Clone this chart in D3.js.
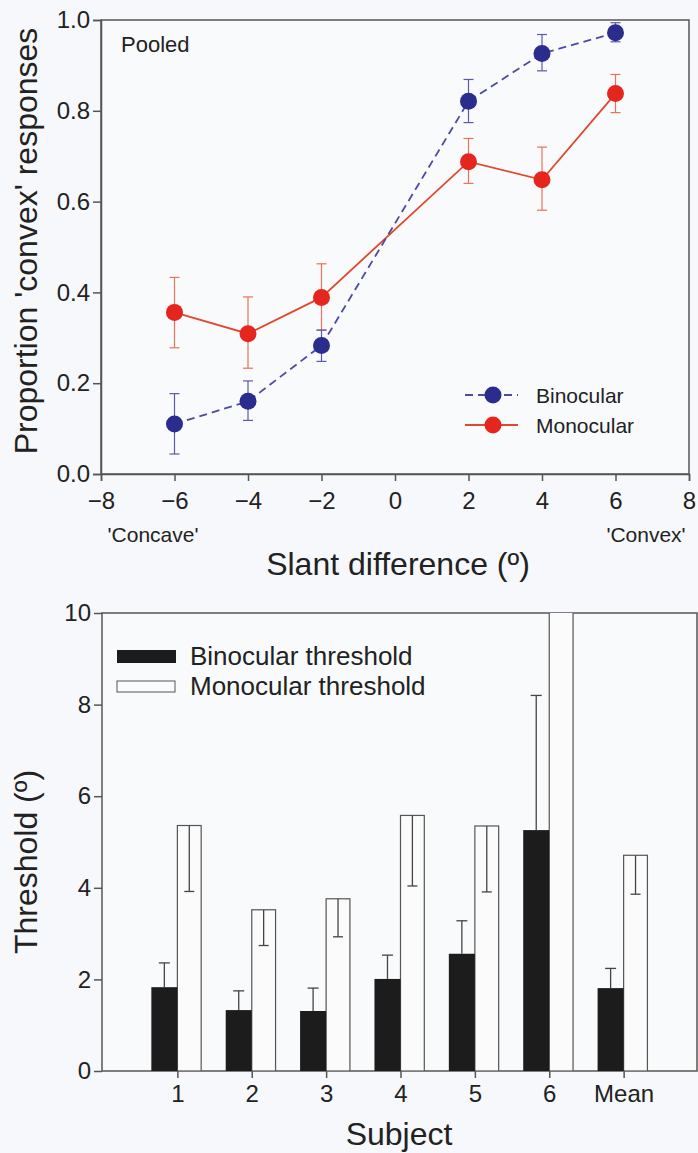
<!DOCTYPE html>
<html><head><meta charset="utf-8">
<script src="https://cdn.jsdelivr.net/npm/d3@7"></script>
<style>
html,body{margin:0;padding:0;background:#f7f8fb;}
svg{display:block;font-family:"Liberation Sans",Arial,Helvetica,sans-serif;}
</style></head>
<body>
<svg id="c" width="698" height="1153"></svg>
<script>
// ---------- Top panel data ----------
const slant = [-6, -4, -2, 2, 4, 6];
const binoMean = [0.11, 0.16, 0.283, 0.821, 0.926, 0.972];
const binoLo   = [0.044, 0.118, 0.248, 0.774, 0.888, 0.952];
const binoHi   = [0.177, 0.205, 0.317, 0.869, 0.968, 0.994];
const monoMean = [0.356, 0.309, 0.389, 0.688, 0.648, 0.838];
const monoLo   = [0.278, 0.233, 0.317, 0.640, 0.581, 0.796];
const monoHi   = [0.433, 0.390, 0.463, 0.739, 0.720, 0.880];
const slantTicks = [-8, -6, -4, -2, 0, 2, 4, 6, 8];
const propTicks = [0.0, 0.2, 0.4, 0.6, 0.8, 1.0];

// ---------- Bottom panel data ----------
const subjects = ["1", "2", "3", "4", "5", "6", "Mean"];
const binoThr    = [1.83, 1.33, 1.31, 2.01, 2.56, 5.26, 1.81];
const binoThrErr = [2.36, 1.75, 1.81, 2.53, 3.28, 8.20, 2.24];
const monoThr    = [5.36, 3.52, 3.76, 5.58, 5.35, 11.0, 4.71];
const monoThrErr = [3.92, 2.74, 2.93, 4.04, 3.91, null, 3.86];
const thrTicks = [0, 2, 4, 6, 8, 10];

const svg = d3.select("#c");
const ink = "#222";
const frame = "#555";
const blue = "#2a2c8e", blueLine = "#4b4ba3", blueErr = "#5a5aaa";
const red = "#e5261f", redLine = "#e1482e", redErr = "#e8735a";
const FONT = "Liberation Sans, Arial, sans-serif";

// ================= TOP PANEL =================
const x1 = d3.scaleLinear().domain([-8, 8]).range([101, 689]);
const y1 = d3.scaleLinear().domain([0, 1]).range([474, 20]);
const g1 = svg.append("g");

g1.append("rect").attr("x", x1(-8)).attr("y", y1(1)).attr("width", x1(8)-x1(-8)).attr("height", y1(0)-y1(1))
  .attr("fill", "#f9fafc").attr("stroke", frame).attr("stroke-width", 1.5);

const ax1 = g1.append("g").attr("transform", `translate(0,${y1(0)})`)
  .call(d3.axisBottom(x1).tickValues(slantTicks).tickSize(7).tickPadding(11).tickFormat(d => d < 0 ? "\u2212" + Math.abs(d) : d));
const ay1 = g1.append("g").attr("transform", `translate(${x1(-8)},0)`)
  .call(d3.axisLeft(y1).tickValues(propTicks).tickSize(8).tickPadding(3).tickFormat(d3.format(".1f")));
[ax1, ay1].forEach(a => {
  a.select(".domain").attr("stroke", frame).attr("stroke-width", 1.5);
  a.selectAll(".tick line").attr("stroke", frame).attr("stroke-width", 1.5);
  a.selectAll(".tick text").attr("fill", ink).attr("font-size", 24).attr("font-family", FONT);
});

// error bars
function errBars(g, xs, lo, hi, col) {
  const eg = g.append("g").attr("stroke", col).attr("stroke-width", 1.2);
  xs.forEach((xv, i) => {
    eg.append("line").attr("x1", x1(xv)).attr("x2", x1(xv)).attr("y1", y1(lo[i])).attr("y2", y1(hi[i]));
    eg.append("line").attr("x1", x1(xv)-5).attr("x2", x1(xv)+5).attr("y1", y1(lo[i])).attr("y2", y1(lo[i]));
    eg.append("line").attr("x1", x1(xv)-5).attr("x2", x1(xv)+5).attr("y1", y1(hi[i])).attr("y2", y1(hi[i]));
  });
}
errBars(g1, slant, monoLo, monoHi, redErr);
errBars(g1, slant, binoLo, binoHi, blueErr);

const line = d3.line().x(d => x1(d[0])).y(d => y1(d[1]));
g1.append("path").datum(slant.map((s, i) => [s, monoMean[i]])).attr("d", line)
  .attr("fill", "none").attr("stroke", redLine).attr("stroke-width", 1.8);
g1.append("path").datum(slant.map((s, i) => [s, binoMean[i]])).attr("d", line)
  .attr("fill", "none").attr("stroke", blueLine).attr("stroke-width", 1.8).attr("stroke-dasharray", "8,5");

g1.selectAll("circle.mono").data(slant).join("circle").attr("class", "mono")
  .attr("cx", d => x1(d)).attr("cy", (d, i) => y1(monoMean[i])).attr("r", 8.5).attr("fill", red);
g1.selectAll("circle.bino").data(slant).join("circle").attr("class", "bino")
  .attr("cx", d => x1(d)).attr("cy", (d, i) => y1(binoMean[i])).attr("r", 8.5).attr("fill", blue);

g1.append("text").attr("x", x1(-8) + 20).attr("y", y1(1) + 32).attr("font-size", 22).attr("fill", ink).text("Pooled");

// legend
const lg = g1.append("g");
const legItems = [
  {label: "Binocular", col: blue, lc: blueLine, dash: "8,5", y: 395},
  {label: "Monocular", col: red, lc: redLine, dash: null, y: 425}
];
legItems.forEach(it => {
  lg.append("line").attr("x1", 465).attr("x2", 518).attr("y1", it.y).attr("y2", it.y)
    .attr("stroke", it.lc).attr("stroke-width", 1.8).attr("stroke-dasharray", it.dash);
  lg.append("circle").attr("cx", 493).attr("cy", it.y).attr("r", 8.5).attr("fill", it.col);
  lg.append("text").attr("x", 536).attr("y", it.y + 8).attr("font-size", 21).attr("fill", ink).text(it.label);
});

g1.append("text").attr("x", 153).attr("y", 542).attr("text-anchor", "middle").attr("font-size", 21).attr("fill", ink).text("'Concave'");
g1.append("text").attr("x", 646).attr("y", 542).attr("text-anchor", "middle").attr("font-size", 21).attr("fill", ink).text("'Convex'");
g1.append("text").attr("x", 398).attr("y", 575).attr("text-anchor", "middle").attr("font-size", 32).attr("fill", ink).text("Slant difference (º)");
g1.append("text").attr("transform", `translate(37,241) rotate(-90)`)
  .attr("text-anchor", "middle").attr("font-size", 32).attr("fill", ink).text("Proportion 'convex' responses");

// ================= BOTTOM PANEL =================
const x2 = d3.scaleLinear().domain([0, 8]).range([103, 698]);
const y2 = d3.scaleLinear().domain([0, 10]).range([1071, 613]);
const g2 = svg.append("g");
g2.append("rect").attr("x", 102).attr("y", y2(10)).attr("width", 697 - 102).attr("height", y2(0) - y2(10))
  .attr("fill", "#f9fafc").attr("stroke", frame).attr("stroke-width", 1.5);

const bw1 = 0.35, bw2 = 0.32;
g2.append("clipPath").attr("id", "bclip").append("rect")
  .attr("x", 102).attr("y", y2(10)).attr("width", 596).attr("height", y2(0) - y2(10));
const bars = g2.append("g").attr("clip-path", "url(#bclip)");
subjects.forEach((s, i) => {
  const t = i + 1;
  bars.append("rect").attr("x", x2(t)).attr("y", y2(monoThr[i])).attr("width", x2(t + bw2) - x2(t))
    .attr("height", y2(0) - y2(monoThr[i])).attr("fill", "#fbfbfb").attr("stroke", "#555").attr("stroke-width", 1.2);
  bars.append("rect").attr("x", x2(t - bw1)).attr("y", y2(binoThr[i])).attr("width", x2(t) - x2(t - bw1))
    .attr("height", y2(0) - y2(binoThr[i])).attr("fill", "#1c1c1c");
  const bx = x2(t - bw1 / 2);
  bars.append("line").attr("x1", bx).attr("x2", bx).attr("y1", y2(binoThr[i])).attr("y2", y2(binoThrErr[i])).attr("stroke", "#444").attr("stroke-width", 1.3);
  bars.append("line").attr("x1", bx - 5.5).attr("x2", bx + 5.5).attr("y1", y2(binoThrErr[i])).attr("y2", y2(binoThrErr[i])).attr("stroke", "#444").attr("stroke-width", 1.3);
  if (monoThrErr[i] !== null) {
    const mx = x2(t + bw2 / 2);
    bars.append("line").attr("x1", mx).attr("x2", mx).attr("y1", y2(monoThr[i])).attr("y2", y2(monoThrErr[i])).attr("stroke", "#444").attr("stroke-width", 1.3);
    bars.append("line").attr("x1", mx - 5).attr("x2", mx + 5).attr("y1", y2(monoThrErr[i])).attr("y2", y2(monoThrErr[i])).attr("stroke", "#444").attr("stroke-width", 1.3);
  }
});

const ax2 = g2.append("g").attr("transform", `translate(0,${y2(0)})`)
  .call(d3.axisBottom(x2).tickValues(d3.range(1, subjects.length + 1)).tickSize(7).tickPadding(7).tickFormat(d => subjects[d - 1]));
const ay2 = g2.append("g").attr("transform", `translate(102,0)`)
  .call(d3.axisLeft(y2).tickValues(thrTicks).tickSize(8).tickPadding(3));
[ax2, ay2].forEach(a => {
  a.select(".domain").remove();
  a.selectAll(".tick line").attr("stroke", frame).attr("stroke-width", 1.5);
  a.selectAll(".tick text").attr("fill", ink).attr("font-size", 24).attr("font-family", FONT);
});

// legend
g2.append("rect").attr("x", 117).attr("y", 650).attr("width", 59).attr("height", 13).attr("fill", "#1c1c1c");
g2.append("rect").attr("x", 117).attr("y", 681).attr("width", 58).attr("height", 11).attr("fill", "#fbfbfb").attr("stroke", "#555").attr("stroke-width", 1);
g2.append("text").attr("x", 190).attr("y", 665).attr("font-size", 26).attr("fill", ink).text("Binocular threshold");
g2.append("text").attr("x", 190).attr("y", 695).attr("font-size", 26).attr("fill", ink).text("Monocular threshold");

g2.append("text").attr("x", 399).attr("y", 1145).attr("text-anchor", "middle").attr("font-size", 32).attr("fill", ink).text("Subject");
g2.append("text").attr("transform", `translate(37,862) rotate(-90)`)
  .attr("text-anchor", "middle").attr("font-size", 32).attr("fill", ink).text("Threshold (º)");
</script>
</body></html>
